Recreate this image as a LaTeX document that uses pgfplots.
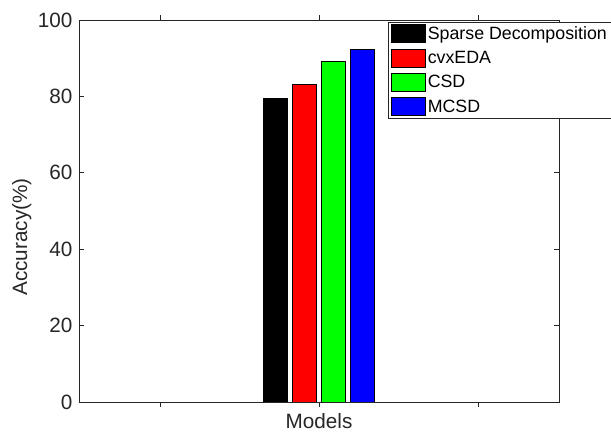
\documentclass[border=0pt]{standalone}
\usepackage{pgfplots}
\pgfplotsset{compat=1.18}
\usepackage{fontspec}
\setmainfont{Liberation Sans}
\definecolor{mgray}{gray}{0.15}
\definecolor{mgreen}{rgb}{0,1,0}
\definecolor{mblue}{rgb}{0,0,1}
\definecolor{mred}{rgb}{1,0,0}
\begin{document}
\begin{tikzpicture}[x=1pt,y=1pt]
\path[use as bounding box] (0,0) rectangle (611,435);
\begin{axis}[
  at={(79pt,33pt)}, anchor=south west,
  scale only axis, width=480pt, height=382pt,
  xmin=-1.51, xmax=1.51, ymin=0, ymax=100,
  xtick={-1,0,1}, xticklabels={,Models,},
  ytick={0,20,...,100},
  tick align=inside, major tick length=5pt,
  axis line style={mgray, line width=0.7pt},
  every tick/.style={mgray, line width=0.7pt},
  tick label style={font=\fontsize{20.7}{24}\selectfont, text=mgray},
  /pgf/number format/assume math mode=true,
  yticklabel style={xshift=-3pt},
  xticklabel style={yshift=-3pt},
  ylabel={Accuracy(\%)},
  ylabel style={font=\fontsize{20.7}{24}\selectfont, text=mgray, at={(axis description cs:-0.119,0.432)}, anchor=center},
  ybar=5pt, bar width=24pt,
  legend cell align=left,
  legend image code/.code={\draw[#1,draw=black,line width=0.8pt] (0pt,-9pt) rectangle (34pt,9pt);},
  legend style={at={(axis description cs:0.644,0.995)}, anchor=north west,
    draw=mgray, line width=0.7pt, font=\fontsize{17.8}{20}\selectfont,
    inner xsep=3pt, inner ysep=2pt, row sep=5.5pt,
    nodes={inner sep=1.5pt, text=black}},
]
\addplot[fill=black, draw=black, line width=0.8pt] coordinates {(0,79.5)};
\addplot[fill=mred, draw=black, line width=0.8pt] coordinates {(0,83.1)};
\addplot[fill=mgreen, draw=black, line width=0.8pt] coordinates {(0,89.2)};
\addplot[fill=mblue, draw=black, line width=0.8pt] coordinates {(0,92.4)};
\legend{Sparse Decomposition, cvxEDA, CSD, MCSD}
\end{axis}
\end{tikzpicture}
\end{document}
